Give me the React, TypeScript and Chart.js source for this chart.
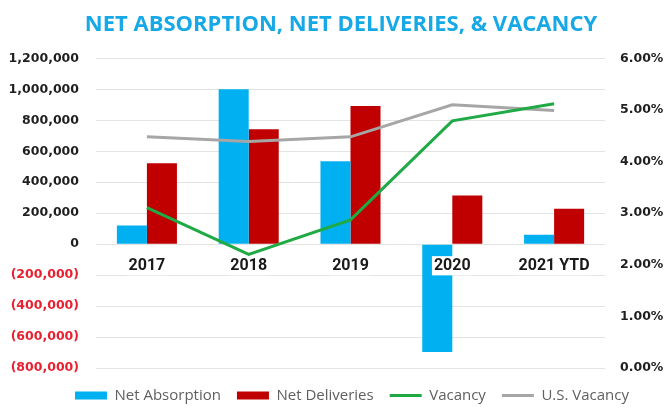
import React, { useEffect, useRef } from "react";
import { Chart, registerables } from "chart.js";

Chart.register(...registerables);

const categories = ["2017", "2018", "2019", "2020", "2021 YTD"];
const netAbsorption = [120000, 1000000, 535000, -697000, 61000];
const netDeliveries = [523000, 743000, 892000, 315000, 229000];
const vacancy = [3.11, 2.2, 2.87, 4.79, 5.12];
const usVacancy = [4.48, 4.39, 4.48, 5.1, 4.99];

const leftMin = -800000;
const leftMax = 1200000;
const leftStep = 200000;
const rightMin = 0;
const rightMax = 6;
const rightStep = 1;

const TITLE = "NET ABSORPTION, NET DELIVERIES, & VACANCY";

// nudges the title and legend blocks horizontally/vertically after layout
const shiftBlocks = {
  id: "shiftBlocks",
  afterLayout(chart: any) {
    const t = chart.titleBlock;
    if (t) {
      t.left += 8;
      t.right += 8;
    }
    const l = chart.legend;
    if (l) {
      l.left += 19;
      l.right += 19;
      l.top += 4;
      l.bottom += 4;
    }
  },
};

export default function App() {
  const ref = useRef<HTMLCanvasElement | null>(null);

  useEffect(() => {
    if (!ref.current) return;
    const tickFont = { family: "DejaVu Sans", weight: "bold" as const, size: 12.5 };
    const chart = new Chart(ref.current, {
      type: "bar",
      plugins: [shiftBlocks],
      data: {
        labels: categories,
        datasets: [
          {
            type: "bar",
            label: "Net Absorption",
            data: netAbsorption,
            backgroundColor: "#00B0F0",
            yAxisID: "y",
            order: 2,
            pointStyle: "rect",
            categoryPercentage: 0.59,
            barPercentage: 1,
          } as any,
          {
            type: "bar",
            label: "Net Deliveries",
            data: netDeliveries,
            backgroundColor: "#C00000",
            yAxisID: "y",
            order: 2,
            pointStyle: "rect",
            categoryPercentage: 0.59,
            barPercentage: 1,
          } as any,
          {
            type: "line",
            label: "Vacancy",
            data: vacancy,
            borderColor: "#1FAA45",
            backgroundColor: "#1FAA45",
            borderWidth: 3,
            pointRadius: 0,
            pointStyle: "line",
            tension: 0,
            yAxisID: "y1",
            order: 0,
          } as any,
          {
            type: "line",
            label: "U.S. Vacancy",
            data: usVacancy,
            borderColor: "#A6A6A6",
            backgroundColor: "#A6A6A6",
            borderWidth: 3,
            pointRadius: 0,
            pointStyle: "line",
            tension: 0,
            yAxisID: "y1",
            order: 1,
          } as any,
        ],
      },
      options: {
        animation: false,
        responsive: true,
        maintainAspectRatio: false,
        layout: { padding: { left: 0, right: 0, top: 0, bottom: 2 } },
        plugins: {
          title: {
            display: true,
            text: TITLE,
            color: "#16A9E6",
            font: { family: "Open Sans", weight: "bold", size: 22 },
            padding: { top: 12, bottom: 20 },
          },
          legend: {
            position: "bottom",
            fullSize: true,
            labels: {
              sort: (a: any, b: any) => a.datasetIndex - b.datasetIndex,
              usePointStyle: true,
              pointStyleWidth: 32,
              boxHeight: 8,
              padding: 16,
              color: "#606060",
              font: { family: "Open Sans", size: 15 },
            },
          },
          tooltip: { enabled: false },
        },
        scales: {
          x: {
            type: "category",
            position: { y: 0 } as any,
            grid: { display: false, drawTicks: false },
            border: { display: false },
            ticks: {
              z: 1,
              font: { family: "Roboto", weight: "bold", size: 16 },
              color: "#1A1A1A",
              padding: 12,
              maxRotation: 0,
              autoSkip: false,
              showLabelBackdrop: true,
              backdropColor: "#FFFFFF",
              backdropPadding: { x: 2, y: 0 },
            } as any,
          },
          y: {
            position: "left",
            min: leftMin,
            max: leftMax,
            grid: { color: "#E3E3E3", drawTicks: false },
            border: { display: false },
            ticks: {
              stepSize: leftStep,
              padding: 17,
              font: tickFont,
              color: (ctx: any) => (ctx.tick && ctx.tick.value < 0 ? "#E8202F" : "#1F1F1F"),
              callback: (v: any) => {
                const n = Number(v);
                const s = Math.abs(n).toLocaleString("en-US");
                return n < 0 ? "(" + s + ")" : s;
              },
            },
            afterFit: (s: any) => {
              s.width = 96;
            },
          },
          y1: {
            position: "right",
            min: rightMin,
            max: rightMax,
            grid: { display: false, drawTicks: false },
            border: { display: false },
            ticks: {
              stepSize: rightStep,
              padding: 15,
              font: tickFont,
              color: "#1F1F1F",
              callback: (v: any) => Number(v).toFixed(2) + "%",
            },
            afterFit: (s: any) => {
              s.width = 61;
            },
          },
        },
      },
    });
    return () => chart.destroy();
  }, []);

  return (
    <div style={{ position: "absolute", left: 0, top: 0, width: 666, height: 411, background: "#fff" }}>
      <canvas ref={ref} />
    </div>
  );
}
